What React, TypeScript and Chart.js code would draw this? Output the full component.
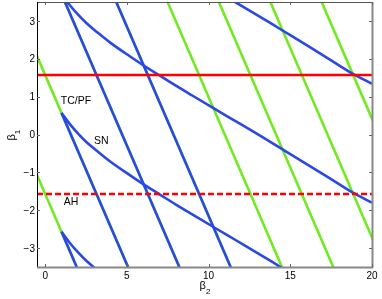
import React, { useEffect, useRef } from "react";
import { Chart, registerables } from "chart.js";
Chart.register(...registerables);

const xTicks = [0, 5, 10, 15, 20];
const yTicks = [-3, -2, -1, 0, 1, 2, 3];
const xRange = [-0.5, 20];
const yRange = [-3.5, 3.5];

// TC/PF lines (green): each from (topX, 3.5) to (bottomX, -3.5)
const greenTopX = [-5.07, -1.93, 1.21, 4.35, 7.49, 10.63, 13.78, 16.92];
const greenBottomX = [1.93, 5.07, 8.21, 11.35, 14.49, 17.63, 20.78, 23.92];

// straight SN segments (blue)
const blueSegStartX = [1.0, 1.0, 1.21, 4.35];
const blueSegStartY = [-2.57, 0.57, 3.5, 3.5];
const blueSegEndX = [1.93, 5.07, 8.21, 11.35];
const blueSegEndY = [-3.5, -3.5, -3.5, -3.5];

// curved SN branches (blue)
const snBX = [1.0, 1.5, 2.0, 2.5, 3.16];
const snBY = [-2.57, -2.86, -3.11, -3.33, -3.57];
const snAX = [1.0, 1.5, 2.0, 2.5, 3.16, 4.0, 5.2, 6.0, 7.0, 8.0, 9.0, 10.4, 11.7, 13.15, 14.4, 16.0, 17.5, 18.8, 20.0];
const snAY = [0.57, 0.28, 0.03, -0.19, -0.43, -0.72, -1.08, -1.31, -1.58, -1.85, -2.11, -2.47, -2.8, -3.17, -3.5, -3.92, -4.32, -4.67, -4.94];
const snCX = [1.0, 1.5, 2.0, 2.5, 3.16, 4.0, 5.2, 6.0, 7.0, 8.0, 9.0, 10.4, 11.7, 13.15, 14.4, 16.0, 17.5, 18.8, 20.0];
const snCY = [3.71, 3.42, 3.17, 2.95, 2.71, 2.42, 2.06, 1.83, 1.56, 1.29, 1.03, 0.67, 0.34, -0.03, -0.36, -0.78, -1.18, -1.53, -1.8];
const snDX = [10.4, 11.7, 13.15, 14.4, 16.0, 17.5, 18.8, 20.0];
const snDY = [3.81, 3.48, 3.11, 2.78, 2.36, 1.96, 1.61, 1.34];

// AH lines (red)
const ahSolidY = 1.57;
const ahDashedY = -1.57;

const labelText = ["TC/PF", "SN", "AH"];
const labelX = [1.88, 3.44, 1.58];
const labelY = [0.89, -0.17, -1.78];

const BLUE = "#2a48e6";
const GREEN = "#72ea22";
const RED = "#ff0000";
const FONT = '"Liberation Sans", Arial, sans-serif';

const zip = (xs: number[], ys: number[]) => xs.map((x, i) => ({ x, y: ys[i] }));

const framePlugin = {
  id: "frame",
  afterDraw(chart: any) {
    const { ctx, chartArea: a, scales } = chart;
    const xs = scales.x;
    const ys = scales.y;
    ctx.save();
    // labels
    ctx.fillStyle = "#000";
    ctx.font = `10.5px ${FONT}`;
    ctx.textAlign = "center";
    ctx.textBaseline = "middle";
    labelText.forEach((t, i) => {
      ctx.fillText(t, xs.getPixelForValue(labelX[i]), ys.getPixelForValue(labelY[i]));
    });
    // frame
    ctx.lineCap = "butt";
    ctx.strokeStyle = "#555";
    ctx.lineWidth = 1;
    ctx.beginPath();
    ctx.moveTo(a.left, a.top + 0.5);
    ctx.lineTo(a.right, a.top + 0.5);
    ctx.stroke();
    ctx.strokeStyle = "#000";
    ctx.beginPath();
    ctx.moveTo(a.left + 0.5, a.top);
    ctx.lineTo(a.left + 0.5, a.bottom);
    ctx.stroke();
    ctx.strokeStyle = "#888";
    ctx.lineWidth = 2;
    ctx.beginPath();
    ctx.moveTo(a.left, a.bottom + 0.5);
    ctx.lineTo(a.right + 1, a.bottom + 0.5);
    ctx.moveTo(a.right + 0.5, a.top);
    ctx.lineTo(a.right + 0.5, a.bottom + 1);
    ctx.stroke();
    // ticks
    ctx.lineWidth = 1;
    ctx.strokeStyle = "#666";
    ctx.beginPath();
    xTicks.forEach((v) => {
      const px = Math.round(xs.getPixelForValue(v)) + 0.5;
      ctx.moveTo(px, a.bottom);
      ctx.lineTo(px, a.bottom - 3);
      ctx.moveTo(px, a.top);
      ctx.lineTo(px, a.top + 3);
    });
    yTicks.forEach((v) => {
      const py = Math.round(ys.getPixelForValue(v)) + 0.5;
      ctx.moveTo(a.left, py);
      ctx.lineTo(a.left + 3, py);
      ctx.moveTo(a.right, py);
      ctx.lineTo(a.right - 3, py);
    });
    ctx.stroke();
    // tick labels
    ctx.fillStyle = "#000";
    ctx.font = `10px ${FONT}`;
    ctx.textAlign = "center";
    ctx.textBaseline = "alphabetic";
    xTicks.forEach((v) => {
      ctx.fillText(String(v), xs.getPixelForValue(v), a.bottom + 11.5);
    });
    ctx.textAlign = "right";
    yTicks.forEach((v) => {
      const s = v < 0 ? "\u2212" + Math.abs(v) : String(v);
      ctx.fillText(s, a.left - 2, ys.getPixelForValue(v) + 3.6);
    });
    // axis titles
    ctx.textAlign = "left";
    const tx = xs.getPixelForValue(10) - 9;
    ctx.font = `11px ${FONT}`;
    ctx.fillText("\u03b2", tx, 289);
    const bw = ctx.measureText("\u03b2").width;
    ctx.font = `8px ${FONT}`;
    ctx.fillText("2", tx + bw, 293.5);
    ctx.translate(15, ys.getPixelForValue(0) + 6);
    ctx.rotate(-Math.PI / 2);
    ctx.font = `11px ${FONT}`;
    ctx.fillText("\u03b2", 0, 0);
    ctx.font = `8px ${FONT}`;
    ctx.fillText("1", bw, 4.5);
    ctx.restore();
  },
};

export default function App() {
  const ref = useRef<HTMLCanvasElement | null>(null);
  useEffect(() => {
    if (!ref.current) return;
    const lineBase = {
      showLine: true,
      pointRadius: 0,
      pointHoverRadius: 0,
      borderWidth: 2.6,
      fill: false,
      clip: 0,
    };
    const datasets: any[] = [];
    datasets.push({ ...lineBase, data: [{ x: xRange[0], y: ahSolidY }, { x: xRange[1], y: ahSolidY }], borderColor: RED, order: 0 });
    datasets.push({ ...lineBase, data: [{ x: xRange[0], y: ahDashedY }, { x: xRange[1], y: ahDashedY }], borderColor: RED, borderDash: [6, 3], order: 0 });
    blueSegStartX.forEach((_, i) => {
      datasets.push({
        ...lineBase,
        data: [{ x: blueSegStartX[i], y: blueSegStartY[i] }, { x: blueSegEndX[i], y: blueSegEndY[i] }],
        borderColor: BLUE,
        order: 1,
      });
    });
    [[snAX, snAY], [snBX, snBY], [snCX, snCY], [snDX, snDY]].forEach(([xs, ys]) => {
      datasets.push({ ...lineBase, data: zip(xs, ys), borderColor: BLUE, cubicInterpolationMode: "monotone", order: 1 });
    });
    greenTopX.forEach((_, i) => {
      datasets.push({
        ...lineBase,
        data: [{ x: greenTopX[i], y: yRange[1] }, { x: greenBottomX[i], y: yRange[0] }],
        borderColor: GREEN,
        order: 2,
      });
    });
    const chart = new Chart(ref.current, {
      type: "scatter",
      data: { datasets },
      options: {
        animation: false,
        responsive: false,
        maintainAspectRatio: false,
        layout: { padding: { left: 37, right: 10, top: 2, bottom: 32 } },
        plugins: { legend: { display: false }, tooltip: { enabled: false } },
        events: [],
        scales: {
          x: { type: "linear", min: xRange[0], max: xRange[1], display: false },
          y: { type: "linear", min: yRange[0], max: yRange[1], display: false },
        },
      },
      plugins: [framePlugin],
    });
    return () => chart.destroy();
  }, []);
  return (
    <div style={{ position: "absolute", left: 0, top: 0, width: 382, height: 299, background: "#fff" }}>
      <canvas ref={ref} width={382} height={299} style={{ width: 382, height: 299 }} />
    </div>
  );
}
